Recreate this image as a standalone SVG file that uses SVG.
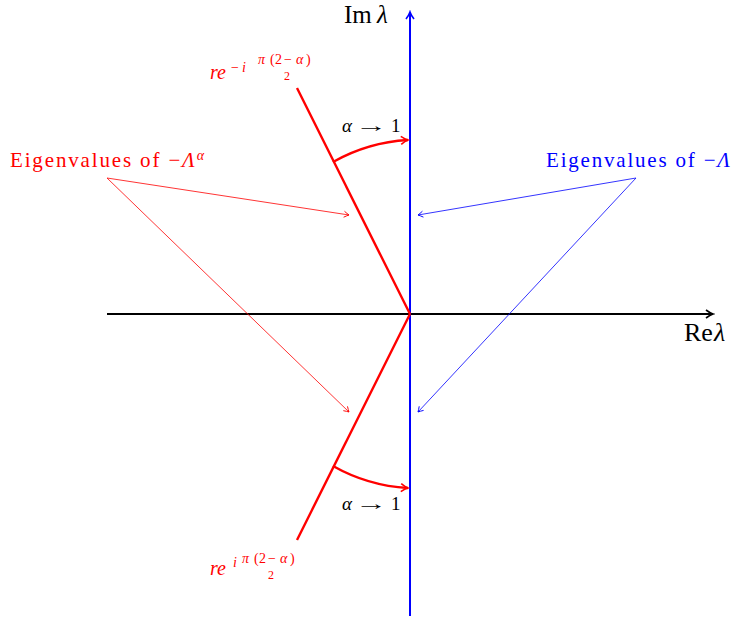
<svg xmlns="http://www.w3.org/2000/svg" width="740" height="621" viewBox="0 0 740 621">
<style>
text{font-family:"Liberation Serif","DejaVu Serif",serif}
.red{fill:#ff0000}
.blue{fill:#0000ff}
.blk{fill:#000}
.it{font-style:italic}
</style>
<defs>
<marker id="ahK" markerWidth="10" markerHeight="10" refX="8" refY="5" orient="auto" markerUnits="userSpaceOnUse"><path d="M1,1 Q5,4 8,5 Q5,6 1,9" fill="none" stroke="#000" stroke-width="1.6"/></marker>
<marker id="ahB" markerWidth="10" markerHeight="10" refX="8" refY="5" orient="auto" markerUnits="userSpaceOnUse"><path d="M1,1 Q5,4 8,5 Q5,6 1,9" fill="none" stroke="#0000ff" stroke-width="1.6"/></marker>
<marker id="ahR" markerWidth="10" markerHeight="10" refX="8" refY="5" orient="auto" markerUnits="userSpaceOnUse"><path d="M1,1 Q5,4 8,5 Q5,6 1,9" fill="none" stroke="#ff0000" stroke-width="1.6"/></marker>
<marker id="ahRs" markerWidth="8" markerHeight="8" refX="6" refY="4" orient="auto" markerUnits="userSpaceOnUse"><path d="M1,1 Q4,3 6,4 Q4,5 1,7" fill="none" stroke="#ff0000" stroke-width="0.9"/></marker>
<marker id="ahBs" markerWidth="8" markerHeight="8" refX="6" refY="4" orient="auto" markerUnits="userSpaceOnUse"><path d="M1,1 Q4,3 6,4 Q4,5 1,7" fill="none" stroke="#0000ff" stroke-width="0.9"/></marker>
</defs>
<g id="connectors" fill="none">
<line x1="107" y1="314" x2="713" y2="314" stroke="#000" stroke-width="2" marker-end="url(#ahK)"/>
<line x1="410" y1="616" x2="410" y2="12" stroke="#0000ff" stroke-width="2" marker-end="url(#ahB)"/>
<line x1="410" y1="314" x2="297" y2="88" stroke="#ff0000" stroke-width="2.4"/>
<line x1="410" y1="314" x2="297" y2="540" stroke="#ff0000" stroke-width="2.4"/>
<path d="M333,162 A172,172 0 0 1 408,140" stroke="#ff0000" stroke-width="2.4" marker-end="url(#ahR)"/>
<path d="M333,466 A172,172 0 0 0 408,488" stroke="#ff0000" stroke-width="2.4" marker-end="url(#ahR)"/>
<line x1="107" y1="178" x2="349" y2="215" stroke="#ff0000" stroke-width="0.8" marker-end="url(#ahRs)"/>
<line x1="107" y1="178" x2="349" y2="412" stroke="#ff0000" stroke-width="0.8" marker-end="url(#ahRs)"/>
<line x1="636" y1="178" x2="418" y2="215" stroke="#0000ff" stroke-width="0.8" marker-end="url(#ahBs)"/>
<line x1="636" y1="178" x2="418" y2="412" stroke="#0000ff" stroke-width="0.8" marker-end="url(#ahBs)"/>
</g>
<g id="label-im"><text y="23" font-size="25" class="blk"><tspan x="344">Im</tspan><tspan x="377" class="it">λ</tspan></text></g>
<g id="label-re"><text y="341" font-size="26" class="blk"><tspan x="684">Re</tspan><tspan x="714" class="it">λ</tspan></text></g>
<g id="label-eig-red"><text x="10" y="167" font-size="21" textLength="194" lengthAdjust="spacing" class="red">Eigenvalues of −<tspan class="it">Λ</tspan><tspan class="it" font-size="14" dy="-7">α</tspan></text></g>
<g id="label-eig-blue"><text x="546" y="167" font-size="21" textLength="184" lengthAdjust="spacing" class="blue">Eigenvalues of −<tspan class="it">Λ</tspan></text></g>
<g id="label-alpha-top">
<text x="342" y="132" font-size="19" class="blk it">α</text>
<text transform="translate(355,132) scale(1.7,1)" font-size="19" class="blk">→</text>
<text x="391" y="132" font-size="19" class="blk">1</text>
</g>
<g id="label-alpha-bot">
<text x="342" y="510" font-size="19" class="blk it">α</text>
<text transform="translate(355,510) scale(1.7,1)" font-size="19" class="blk">→</text>
<text x="391" y="510" font-size="19" class="blk">1</text>
</g>
<g id="label-top-exp">
<text x="210" y="79" font-size="20" class="red it">re</text>
<text x="231" y="72" font-size="14" class="red"><tspan>−</tspan><tspan x="242" class="it">i</tspan></text>
<text y="64" font-size="14" class="red"><tspan x="258" class="it">π</tspan><tspan x="270">(</tspan><tspan x="275">2</tspan><tspan x="284">−</tspan><tspan x="296" class="it">α</tspan><tspan x="306">)</tspan></text>
<text x="284" y="80" font-size="12" class="red">2</text>
</g>
<g id="label-bot-exp">
<text x="210" y="575" font-size="20" class="red it">re</text>
<text x="233" y="567" font-size="14" class="red it">i</text>
<text y="563" font-size="14" class="red"><tspan x="242" class="it">π</tspan><tspan x="254">(</tspan><tspan x="259">2</tspan><tspan x="268">−</tspan><tspan x="280" class="it">α</tspan><tspan x="290">)</tspan></text>
<text x="268" y="579" font-size="12" class="red">2</text>
</g>
</svg>
